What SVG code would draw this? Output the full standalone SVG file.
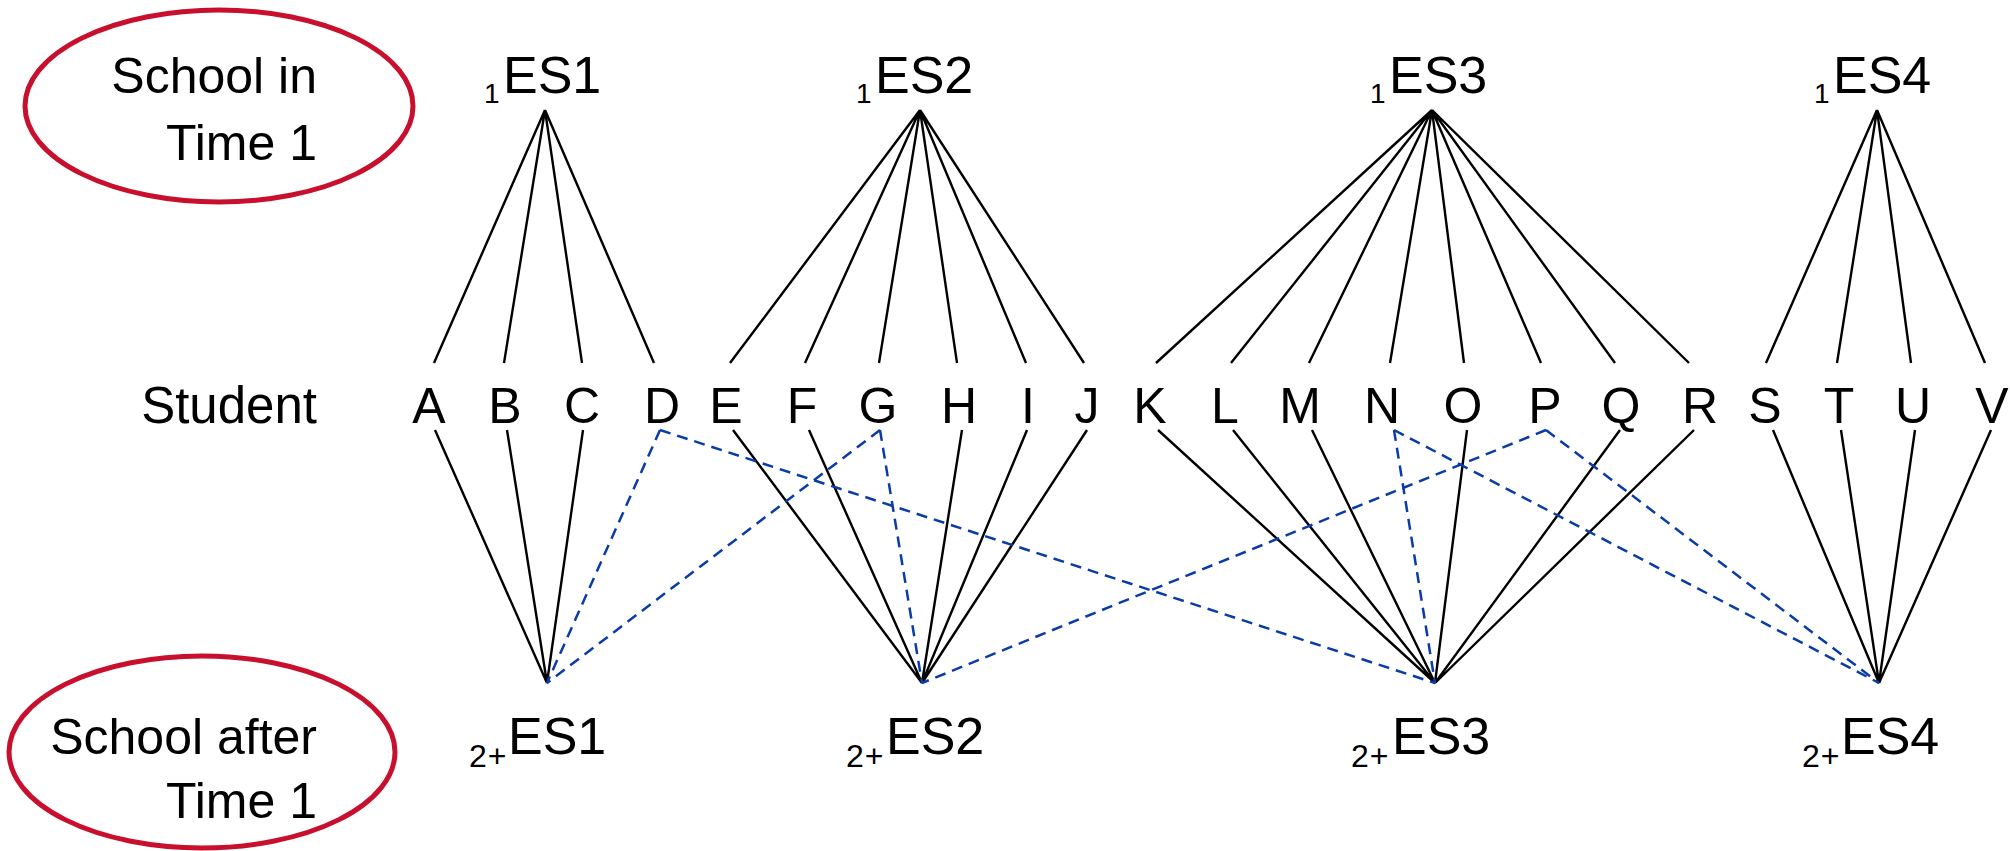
<svg xmlns="http://www.w3.org/2000/svg" width="2010" height="851" viewBox="0 0 2010 851">
  <style>
    text { font-family: "Liberation Sans", Arial, sans-serif; fill: #000; }
    .lbl { font-size: 50px; }
    .es { font-size: 52px; }
    .sub1 { font-size: 28px; }
    .sub2 { font-size: 32px; letter-spacing: 1px; }
    .stu { font-size: 50px; text-anchor: middle; }
    .oval { fill: none; stroke: #c8102e; stroke-width: 5; }
    .tie { stroke: #000; stroke-width: 2.4; fill: none; }
    .move { stroke: #0a3ca8; stroke-width: 2.5; stroke-dasharray: 11 7; fill: none; }
  </style>

  <!-- row captions -->
  <g id="caption-time1">
    <ellipse class="oval" cx="219" cy="106" rx="194" ry="96"/>
    <text class="lbl" x="317" y="93" text-anchor="end">School in</text>
    <text class="lbl" x="317" y="160" text-anchor="end">Time 1</text>
  </g>
  <g id="caption-after">
    <ellipse class="oval" cx="202" cy="752" rx="193" ry="96"/>
    <text class="lbl" x="317" y="754" text-anchor="end">School after</text>
    <text class="lbl" x="317" y="818" text-anchor="end">Time 1</text>
  </g>
  <g id="caption-student">
    <text class="lbl" x="317" y="423" text-anchor="end" style="font-size:51px">Student</text>
  </g>

  <!-- schools in time 1 -->
  <g id="t1-es1"><text class="sub1" x="484" y="103">1</text><text class="es" x="503" y="93">ES1</text></g>
  <g id="t1-es2"><text class="sub1" x="856" y="103">1</text><text class="es" x="875" y="93">ES2</text></g>
  <g id="t1-es3"><text class="sub1" x="1370" y="103">1</text><text class="es" x="1389" y="93">ES3</text></g>
  <g id="t1-es4"><text class="sub1" x="1814" y="103">1</text><text class="es" x="1833" y="93">ES4</text></g>

  <!-- schools after time 1 -->
  <g id="t2-es1"><text class="sub2" x="469" y="767">2+</text><text class="es" x="508" y="754">ES1</text></g>
  <g id="t2-es2"><text class="sub2" x="846" y="767">2+</text><text class="es" x="886" y="754">ES2</text></g>
  <g id="t2-es3"><text class="sub2" x="1351" y="767">2+</text><text class="es" x="1392" y="754">ES3</text></g>
  <g id="t2-es4"><text class="sub2" x="1802" y="767">2+</text><text class="es" x="1841" y="754">ES4</text></g>

  <!-- students -->
  <g id="student-A"><text class="stu" x="429" y="423">A</text></g>
  <g id="student-B"><text class="stu" x="505" y="423">B</text></g>
  <g id="student-C"><text class="stu" x="582" y="423">C</text></g>
  <g id="student-D"><text class="stu" x="662" y="423">D</text></g>
  <g id="student-E"><text class="stu" x="726" y="423">E</text></g>
  <g id="student-F"><text class="stu" x="802" y="423">F</text></g>
  <g id="student-G"><text class="stu" x="878" y="423">G</text></g>
  <g id="student-H"><text class="stu" x="959" y="423">H</text></g>
  <g id="student-I"><text class="stu" x="1028" y="423">I</text></g>
  <g id="student-J"><text class="stu" x="1087" y="423">J</text></g>
  <g id="student-K"><text class="stu" x="1150" y="423">K</text></g>
  <g id="student-L"><text class="stu" x="1225" y="423">L</text></g>
  <g id="student-M"><text class="stu" x="1300" y="423">M</text></g>
  <g id="student-N"><text class="stu" x="1382" y="423">N</text></g>
  <g id="student-O"><text class="stu" x="1463" y="423">O</text></g>
  <g id="student-P"><text class="stu" x="1545" y="423">P</text></g>
  <g id="student-Q"><text class="stu" x="1621" y="423">Q</text></g>
  <g id="student-R"><text class="stu" x="1700" y="423">R</text></g>
  <g id="student-S"><text class="stu" x="1765" y="423">S</text></g>
  <g id="student-T"><text class="stu" x="1839" y="423">T</text></g>
  <g id="student-U"><text class="stu" x="1913" y="423">U</text></g>
  <g id="student-V"><text class="stu" x="1992" y="423">V</text></g>

  <g id="connectors">
    <!-- enrolment in time 1 -->
    <g class="tie">
      <path d="M545 110L434 363M545 110L504 363M545 110L582 363M545 110L654 363"/>
      <path d="M920 110L730 363M920 110L805 363M920 110L879 363M920 110L957 363M920 110L1026 363M920 110L1084 363"/>
      <path d="M1432 110L1156 363M1432 110L1231 363M1432 110L1309 363M1432 110L1390 363M1432 110L1464 363M1432 110L1541 363M1432 110L1615 363M1432 110L1689 363"/>
      <path d="M1877 110L1766 363M1877 110L1837 363M1877 110L1911 363M1877 110L1985 363"/>
    </g>
    <!-- same school after time 1 -->
    <g class="tie">
      <path d="M435 430L547 683M507 430L547 683M583 430L547 683"/>
      <path d="M733 430L922 683M809 430L922 683M962 430L922 683M1027 430L922 683M1087 430L922 683"/>
      <path d="M1158 430L1435 683M1233 430L1435 683M1312 430L1435 683M1467 430L1435 683M1620 430L1435 683M1694 430L1435 683"/>
      <path d="M1773 430L1879 683M1841 430L1879 683M1915 430L1879 683M1991 430L1879 683"/>
    </g>
    <!-- changed school after time 1 -->
    <g class="move">
      <path d="M660 430L547 683"/>
      <path d="M660 430L1435 683"/>
      <path d="M880 430L547 683"/>
      <path d="M880 430L922 683"/>
      <path d="M1394 430L1435 683"/>
      <path d="M1394 430L1879 683"/>
      <path d="M1546 430L922 683"/>
      <path d="M1546 430L1879 683"/>
    </g>
  </g>
</svg>
